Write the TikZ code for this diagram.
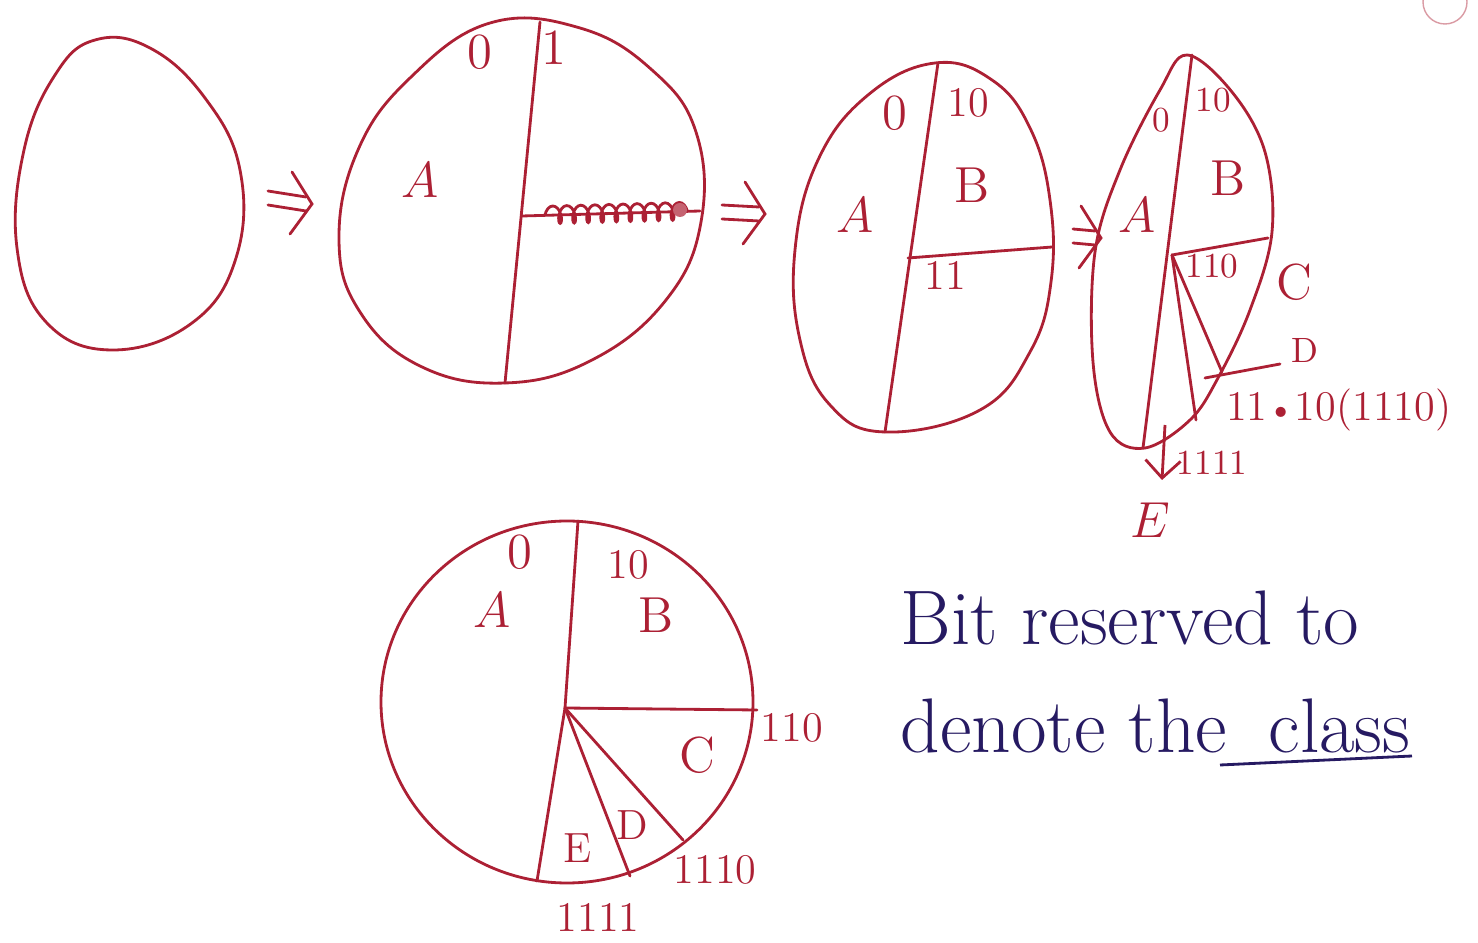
\documentclass[tikz,border=0pt]{standalone}
\usetikzlibrary{arrows.meta,calc,decorations.pathmorphing}
\definecolor{ink}{RGB}{172,32,52}
\definecolor{pen}{RGB}{38,26,98}
\tikzset{
  blob/.style={draw=ink,thick,line join=round},
  cut/.style={draw=ink,thick,line cap=round},
  lbl/.style={text=ink,font=\Large,inner sep=1pt},
  num/.style={text=ink,font=\large,inner sep=1pt},
  small/.style={text=ink,font=\normalsize,inner sep=1pt},
  note/.style={text=pen,font=\fontsize{22}{26}\selectfont,inner sep=0pt,anchor=base west},
  tick/.style={draw=ink,thick,-{Straight Barb[length=5pt,width=10pt]}},
}
\begin{document}
\begin{tikzpicture}[x=0.01cm,y=-0.01cm]
  \useasboundingbox (0,0) rectangle (1478,943);
  % empty outline
  \draw[blob] plot[smooth cycle,tension=0.7] coordinates
    {(95,40) (150,48) (205,98) (240,170) (236,258) (192,323) (112,350) (46,322) (17,248) (24,150) (55,75)};
  \coordinate (a1s) at (268,198); \coordinate (a1e) at (312,204);

  % first split: 0 | 1
  \draw[blob] plot[smooth cycle,tension=0.7] coordinates
    {(490,23) (580,28) (652,70) (696,132) (701,222) (666,300) (592,360) (505,383) (420,366) (360,312) (339,240) (358,150) (410,78)};
  \coordinate (c2t) at (540,22); \coordinate (c2b) at (505,383);
  \draw[cut] (c2t) -- (c2b);
  \coordinate (s2a) at (522,216); \coordinate (s2b) at (700,211);
  \draw[cut] (s2a) -- (s2b);
  \draw[ink,thick,decorate,decoration={coil,amplitude=2.5pt,segment length=4pt}]
    (545,215) -- (688,211);
  \fill[ink!70] (680,210) circle (7);
  \node[lbl] (z2) at (480,52) {0};
  \node[lbl] (o2) at (554,48) {1};
  \node[lbl] (A2) at (420,180) {$A$};
  \coordinate (a2s) at (722,212); \coordinate (a2e) at (765,214);

  % second split: 0 | 10 | 11
  \draw[blob] plot[smooth cycle,tension=0.7] coordinates
    {(935,63) (992,80) (1030,128) (1050,200) (1051,282) (1030,352) (980,410) (885,432) (830,405) (800,340) (795,250) (818,160) (868,95)};
  \coordinate (c3t) at (938,63); \coordinate (c3b) at (885,432);
  \coordinate (c3m) at (908,258); \coordinate (c3r) at (1052,247);
  \draw[cut] (c3t) -- (c3b);
  \draw[cut] (c3m) -- (c3r);
  \node[lbl] (z3) at (895,113) {0};
  \node[num] (t3) at (968,103) {10};
  \node[lbl] (B3) at (972,185) {B};
  \node[lbl] (A3) at (855,215) {$A$};
  \node[num] (e3) at (945,275) {11};
  \coordinate (a3s) at (1073,236); \coordinate (a3e) at (1101,238);

  % third split: narrow pie
  \draw[blob] plot[smooth cycle,tension=0.6] coordinates
    {(1187,55) (1232,92) (1265,152) (1272,232) (1250,310) (1218,378) (1190,420) (1145,448) (1110,432) (1093,362) (1095,252) (1120,170) (1160,90)};
  \coordinate (c4t) at (1192,55); \coordinate (c4b) at (1143,448);
  \coordinate (c4m) at (1172,255); \coordinate (c4r) at (1268,238);
  \coordinate (c4c) at (1222,372); \coordinate (c4d) at (1196,420);
  \draw[cut] (c4t) -- (c4b);
  \draw[cut] (c4m) -- (c4r);
  \draw[cut] (c4m) -- (c4c);
  \draw[cut] (c4m) -- (c4d);
  \coordinate (d4s) at (1205,378); \coordinate (d4e) at (1280,364);
  \draw[cut] (d4s) -- (d4e);
  \coordinate (e4s) at (1165,425); \coordinate (e4e) at (1162,480);
  \draw[tick] (e4s) -- (e4e);
  \node[small] (z4) at (1161,120) {0};
  \node[small] (t4) at (1213,100) {10};
  \node[lbl] (B4) at (1228,178) {B};
  \node[lbl] (A4) at (1137,215) {$A$};
  \node[small] (h4) at (1212,266) {110};
  \node[lbl] (C4) at (1294,282) {C};
  \node[small] (D4) at (1305,350) {D};
  \node[num,anchor=west] (k4) at (1222,410) {11{\normalsize\textbullet}10(1110)};
  \node[small] (f4) at (1212,463) {1111};
  \node[lbl] (E4) at (1150,520) {$E$};

  % final pie
  \draw[blob] (567,702) ellipse [x radius=186, y radius=181];
  \coordinate (p0) at (565,708);
  \coordinate (pt) at (578,521); \coordinate (pr) at (757,710);
  \coordinate (pc) at (683,840); \coordinate (pd) at (630,876);
  \coordinate (pe) at (537,881);
  \foreach \q in {pt,pr,pc,pd,pe} \draw[cut] (p0) -- (\q);
  \node[lbl] (z5) at (520,552) {0};
  \node[num] (t5) at (628,565) {10};
  \node[lbl] (A5) at (492,610) {$A$};
  \node[lbl] (B5) at (656,615) {B};
  \node[lbl] (C5) at (697,755) {C};
  \node[num] (D5) at (632,825) {D};
  \node[num] (E5) at (578,848) {E};
  \node[num] (h5) at (792,728) {110};
  \node[num] (u5) at (715,870) {1110};
  \node[num] (f5) at (598,917) {1111};

  % hand-drawn double arrows between the stages
  \foreach \s/\e in {a1s/a1e,a2s/a2e,a3s/a3e} {
    \draw[cut] ($(\s)+(0,-7)$) -- ($(\e)+(-6,-7)$);
    \draw[cut] ($(\s)+(0,7)$) -- ($(\e)+(-6,7)$);
    \draw[cut] ($(\e)+(-20,-32)$) -- (\e) -- ($(\e)+(-22,30)$);
  }

  % note
  \node[note] (n1) at (900,645) {Bit reserved to};
  \node[note] (n2) at (900,752) {denote the};
  \node[note] (n3) at (1268,752) {class};
  \coordinate (ul1) at (1220,765); \coordinate (ul2) at (1412,756);
  \draw[pen,thick] (ul1) -- (ul2);

  % page mark
  \draw[ink!45] (1445,2) circle (22);
\end{tikzpicture}
\end{document}
